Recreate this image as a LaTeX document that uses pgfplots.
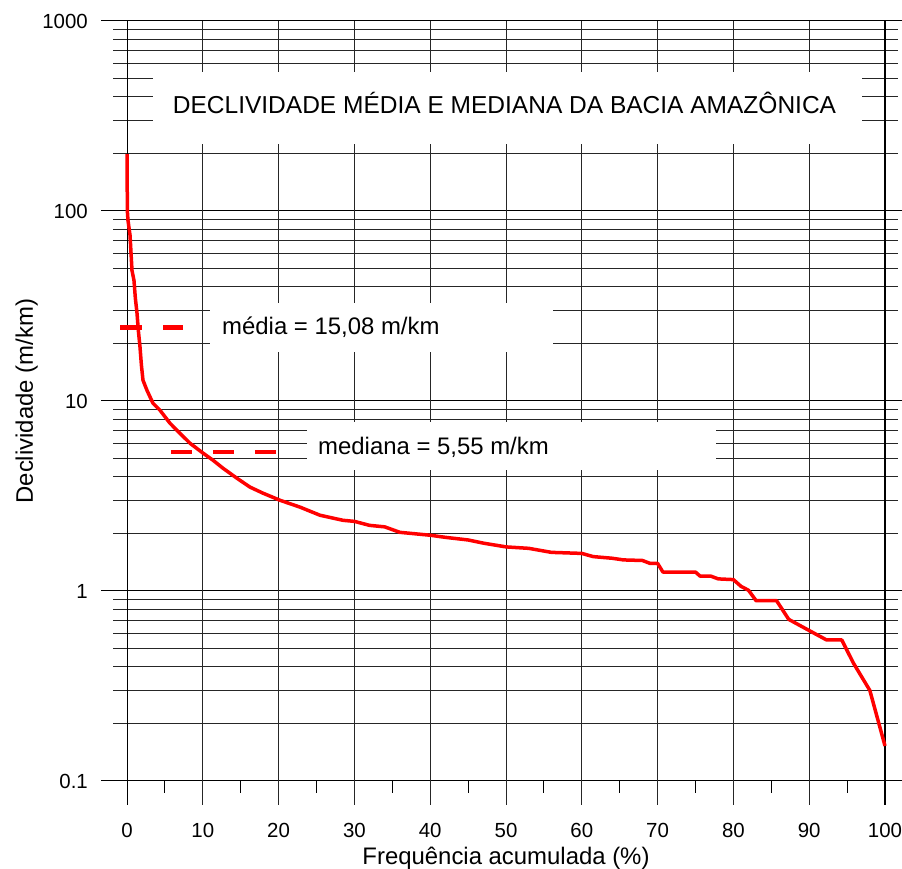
\documentclass[border=0pt]{standalone}
\usepackage{pgfplots}
\pgfplotsset{compat=1.18}
\usepackage{fontspec}
\setmainfont{Liberation Sans}
\definecolor{gridc}{gray}{0.15}
\begin{document}
\begin{tikzpicture}
% ---- grid (picture pixel coordinates, y downwards) ----
\begin{scope}[x=1bp,y=-1bp,yshift=869bp]
  \foreach \d in {-1,0,1,2}{
    \foreach \k in {2,...,9}{
      \pgfmathsetmacro{\Y}{591-190*(\d+log10(\k))}
      \draw[gridc,line width=1bp] (113,\Y) -- (898,\Y);
    }
  }
  \foreach \d in {-1,0,1,2,3}{
    \pgfmathsetmacro{\Y}{591-190*\d}
    \draw[black,line width=1bp] (101,\Y) -- (902,\Y);
  }
  \foreach \i in {0,...,10}{
    \pgfmathsetmacro{\X}{127+75.8*\i}
    \draw[gridc,line width=1bp] (\X,21) -- (\X,805);
  }
  \draw[black,line width=1bp] (127,21) -- (127,805);
  \draw[black,line width=1.3bp] (885,21) -- (885,805);
  \foreach \i in {0,...,9}{
    \pgfmathsetmacro{\X}{127+75.8*(\i+0.5)}
    \draw[black,line width=1bp] (\X,781) -- (\X,793);
  }
  \fill[white] (153,72) rectangle (862,144);
  \fill[white] (210,303) rectangle (553,352);
  \fill[white] (307,422) rectangle (716,470);
\end{scope}

\begin{axis}[
  at={(127bp,88bp)}, anchor=south west,
  scale only axis, width=758bp, height=759.5bp,
  xmin=0, xmax=100, ymin=0.1, ymax=1000, ymode=log,
  clip=false,
  axis line style={draw=none},
  major tick length=0pt, minor tick length=0pt,
  tick style={draw=none},
  xtick={0,10,20,30,40,50,60,70,80,90,100},
  xticklabels={0,10,20,30,40,50,60,70,80,90,100},
  ytick={0.1,1,10,100,1000},
  yticklabels={0.1,1,10,100,1000},
  minor ytick={},
  /pgf/number format/assume math mode=true,
  ticklabel style={font=\fontsize{20.5}{24}\selectfont},
  xticklabel style={anchor=base, inner sep=0pt, yshift=-56bp},
  yticklabel style={anchor=east, inner sep=0pt, xshift=-39bp},
  xlabel={Frequência acumulada (\%)},
  ylabel={Declividade (m/km)},
  label style={font=\fontsize{24}{28}\selectfont},
  xlabel style={at={(axis description cs:0.5,0)}, anchor=base, inner sep=0pt, yshift=-83bp},
  ylabel style={at={(axis description cs:0,0.5)}, anchor=base, inner sep=0pt, yshift=94bp},
]
\addplot[red, line width=3.5bp, line join=round] coordinates {
(0,200) (0.05,100) (0.13,89.7) (0.4,74.8) (0.66,48.8) (0.92,43.3)
(1.1,35) (1.32,29.1) (1.5,23.5) (1.72,19.2) (1.9,15.5) (2.11,12.9) (2.64,11.4) (3.43,9.76) (4.35,8.97)
(5.67,7.66) (6.99,6.78) (8.31,6.01) (10.03,5.33) (11.35,4.89) (12.66,4.44)
(14.51,3.93) (16.23,3.53) (17.94,3.28) (20.18,3.01) (22.82,2.77) (25.46,2.51)
(28.5,2.36) (30,2.33) (32,2.22) (34,2.18) (36,2.04) (40,1.97) (42,1.92)
(45,1.86) (47,1.79) (50,1.71) (53,1.68) (56,1.60) (60,1.58) (61.5,1.52)
(64,1.49) (65.5,1.46) (68,1.45) (69,1.40) (70,1.40) (70.7,1.26) (75,1.26)
(75.6,1.20) (77,1.20) (78,1.16) (80,1.15) (81,1.06) (82,1.01) (83,0.89)
(85.7,0.89) (87.3,0.71) (90,0.62) (92.3,0.553) (94.3,0.553) (95.8,0.42)
(98,0.30) (100,0.153)
};
\addplot[red, line width=4.5bp, dash pattern=on 22bp off 21bp] coordinates {(-0.92,24.5) (7.45,24.5)};
\addplot[red, line width=4.5bp, dash pattern=on 21.5bp off 20.5bp] coordinates {(5.80,5.4) (19.66,5.4)};
\end{axis}

\begin{scope}[x=1bp,y=-1bp,yshift=869bp]
  \node[anchor=base, inner sep=0pt, font=\fontsize{24.6}{28}\selectfont] at (504.5,113.3) {DECLIVIDADE MÉDIA E MEDIANA DA BACIA AMAZÔNICA};
  \node[anchor=base west, inner sep=0pt, font=\fontsize{24}{28}\selectfont] at (222,335) {média = 15,08 m/km};
  \node[anchor=base west, inner sep=0pt, font=\fontsize{24}{28}\selectfont] at (318,455) {mediana = 5,55 m/km};
\end{scope}
\pgfresetboundingbox
\useasboundingbox (0,0) rectangle (902bp,869bp);
\end{tikzpicture}
\end{document}
